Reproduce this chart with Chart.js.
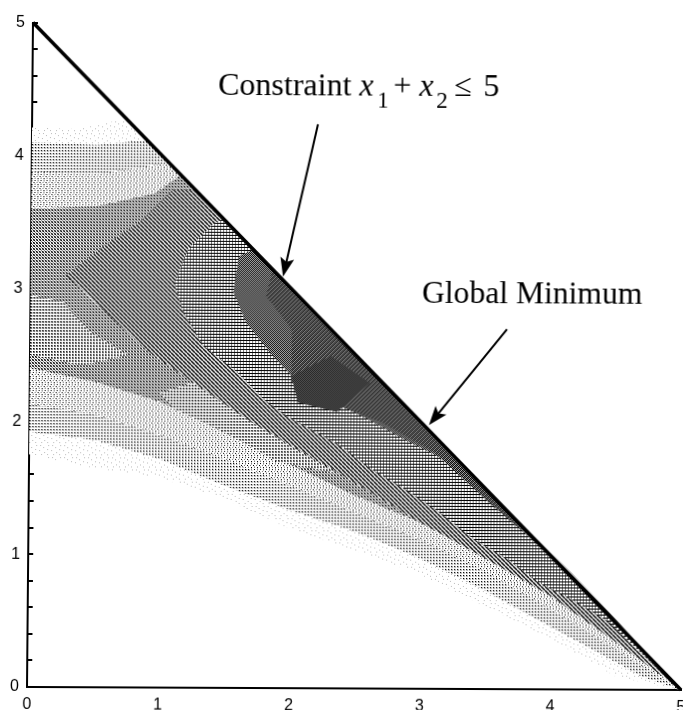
<!DOCTYPE html>
<html>
<head>
<meta charset="utf-8">
<title>Constraint contour</title>
<script src="https://cdn.jsdelivr.net/npm/chart.js@4"></script>
<style>
  html, body { margin: 0; padding: 0; background: #fff; overflow: hidden; }
  /* the scan is slightly sheared, so the axes are not quite square */
  #plot { display: block; transform-origin: 27px 687px; transform: matrix(1, 0.00459, -0.009, 1, 0, 0); }
</style>
</head>
<body>
<canvas id="plot" width="683" height="710"></canvas>
<script>
// contour bands, outermost first, each as [x1, x2]
const bandFaint = [[0,4.21],[0.35,4.2],[0.72,4.28],[5,0],[4.5,0.1],[4,0.38],[3.5,0.62],[3,0.86],[2.5,1.04],[2,1.2],[1.5,1.42],[1,1.58],[0.5,1.65],[0,1.75]];
const bandDots = [[0,4.1],[0.5,4.08],[0.88,4.12],[5,0],[4.7,0.1],[4,0.47],[3.5,0.74],[3,0.98],[2.5,1.18],[2,1.34],[1.5,1.52],[1,1.72],[0.5,1.86],[0,1.92]];
const bandGrey = [[0,3.88],[0.5,3.86],[1.05,3.95],[5,0],[4.7,0.18],[4,0.6],[3.5,0.88],[3,1.12],[2.5,1.32],[2,1.52],[1.5,1.72],[1,1.9],[0.5,2.05],[0,2.13]];
const bandDense = [[0,3.6],[0.5,3.62],[0.95,3.72],[1.14,3.86],[5,0],[4.7,0.22],[4,0.7],[3.5,1],[3,1.25],[2.5,1.45],[2,1.68],[1.5,1.92],[1,2.15],[0.5,2.3],[0,2.4]];
const patchLeft = [[0,2.95],[0.25,2.9],[0.45,2.68],[0.75,2.5],[0.4,2.42],[0,2.5]];
const patchLower = [[1,2.22],[1.25,2.3],[1.55,2.1],[2,1.82],[2.35,1.62],[1.9,1.7],[1.5,1.92],[1.1,2.1]];
const bandDiag = [[0.27,3.1],[0.53,3.3],[0.85,3.52],[1.08,3.75],[1.25,3.75],[5,0],[4.5,0.36],[4,0.7],[3.5,0.98],[3,1.25],[2.37,1.62],[1.7,2],[0.9,2.53]];
const bandHatch = [[1.1,3.04],[1.2,3.3],[1.4,3.5],[1.47,3.53],[5,0],[4.43,0.52],[4.17,0.67],[3.91,0.8],[3.66,0.98],[3.4,1.13],[3.14,1.33],[2.88,1.5],[2.62,1.65],[2.37,1.83],[1.96,2.05],[1.78,2.18],[1.58,2.38],[1.32,2.58],[1.17,2.83]];
const bandCheck = [[1.55,2.98],[1.59,3.25],[1.7,3.3],[5,0],[4.4,0.63],[4.15,0.88],[3.9,1.12],[3.64,1.33],[3.38,1.53],[3.13,1.75],[2.88,1.87],[2.6,2.02],[2.27,2.18],[2,2.35],[1.83,2.53],[1.65,2.75]];
const bandDark = [[1.85,3.15],[1.8,2.95],[2,2.7],[2,2.3],[2.3,2.15],[2.7,2],[3.1,1.78],[3.5,1.42],[4,1],[5,0]];
const bandDeep = [[2,2.35],[2.3,2.5],[2.6,2.3],[2.35,2.08],[2.05,2.15]];

const constraintX = [0, 5];
const constraintY = [5, 0];

const arrowConstraint = [[2.186,4.245],[1.929,3.097]];
const arrowMinimum = [[3.645,2.708],[3.055,1.985]];

const xTicks = [0, 1, 2, 3, 4, 5];

// small halftone tiles: # black, + mid grey, - light grey, . white
const tiles = {
  faint: ['............','..-.......-.','............','.....-......','............','.........-..','.-..........','............','......-.....','............','...-.....-..','............'],
  dots: ['#-.','--.','...'],
  patch: ['#+.','++.','...'],
  grey: ['#..+..','...-..','..+..#','-.....','+..#..','...-..'],
  dense: ['#.+','.+.','+.#'],
  diag: ['#+.-','+#+.','.+#+','-.+#'],
  hatch: ['###','+..','+..'],
  check: ['#-','-#'],
  dark: ['#+#-','+#-#','#-#+','-#+#'],
  deep: ['#+','+#']
};

function makePattern(rows) {
  const c = document.createElement('canvas');
  c.width = rows[0].length;
  c.height = rows.length;
  const g = c.getContext('2d');
  const shades = { '#': '#000', '+': '#777', '-': '#bbb', '.': '#fff' };
  rows.forEach((row, j) => {
    [...row].forEach((ch, i) => {
      g.fillStyle = shades[ch];
      g.fillRect(i, j, 1, 1);
    });
  });
  return g.createPattern(c, 'repeat');
}

function band(points, tile, order) {
  return {
    type: 'scatter',
    data: points,
    showLine: true,
    fill: 'shape',
    backgroundColor: makePattern(tiles[tile]),
    borderWidth: 0,
    pointRadius: 0,
    order: order
  };
}

// arrows and the two labels sit on top of the plot
const notes = {
  id: 'notes',
  afterDraw(chart) {
    const ctx = chart.ctx;
    const sx = chart.scales.x;
    const sy = chart.scales.y;

    [arrowConstraint, arrowMinimum].forEach(a => {
      const x0 = sx.getPixelForValue(a[0][0]);
      const y0 = sy.getPixelForValue(a[0][1]);
      const x1 = sx.getPixelForValue(a[1][0]);
      const y1 = sy.getPixelForValue(a[1][1]);
      const ang = Math.atan2(y1 - y0, x1 - x0);
      ctx.save();
      ctx.strokeStyle = '#000';
      ctx.lineWidth = 2;
      ctx.beginPath();
      ctx.moveTo(x0, y0);
      ctx.lineTo(x1 - 12 * Math.cos(ang), y1 - 12 * Math.sin(ang));
      ctx.stroke();
      ctx.translate(x1, y1);
      ctx.rotate(ang);
      ctx.fillStyle = '#000';
      ctx.beginPath();
      ctx.moveTo(0, 0);
      ctx.lineTo(-19, -7);
      ctx.lineTo(-15, 0);
      ctx.lineTo(-19, 7);
      ctx.closePath();
      ctx.fill();
      ctx.restore();
    });

    const serif = '"Liberation Serif", serif';
    ctx.save();
    ctx.fillStyle = '#000';
    ctx.textAlign = 'left';
    ctx.textBaseline = 'alphabetic';
    ctx.font = '31.6px ' + serif;
    ctx.fillText('Global Minimum', 418.5, 301.3);
    ctx.font = '32px ' + serif;
    ctx.fillText('Constraint', 212.7, 94);
    ctx.fillText('+', 388, 94);
    ctx.fillText('\u2264', 449, 94);
    ctx.fillText('5', 478, 94);
    ctx.font = 'italic 32px ' + serif;
    ctx.fillText('x', 354, 94);
    ctx.fillText('x', 414, 94);
    ctx.font = '23px ' + serif;
    ctx.fillText('1', 372, 106);
    ctx.fillText('2', 431, 106);
    ctx.restore();
  }
};

new Chart(document.getElementById('plot'), {
  data: {
    datasets: [
      {
        type: 'scatter',
        data: constraintX.map((x, i) => ({ x: x, y: constraintY[i] })),
        showLine: true,
        borderColor: '#000',
        borderWidth: 3.5,
        pointRadius: 0,
        clip: 4,
        order: 0
      },
      band(bandDeep, 'deep', 1),
      band(bandDark, 'dark', 2),
      band(bandCheck, 'check', 3),
      band(bandHatch, 'hatch', 4),
      band(bandDiag, 'diag', 5),
      band(patchLeft, 'patch', 6),
      band(patchLower, 'patch', 6),
      band(bandDense, 'dense', 7),
      band(bandGrey, 'grey', 8),
      band(bandDots, 'dots', 9),
      band(bandFaint, 'faint', 10)
    ]
  },
  options: {
    responsive: false,
    animation: false,
    layout: { padding: { top: 20, right: 2, left: 0, bottom: 0 } },
    plugins: { legend: { display: false }, tooltip: { enabled: false } },
    scales: {
      x: {
        type: 'linear',
        min: 0,
        max: 5,
        afterFit(s) { s.height = 23; s.paddingLeft = 0; s.paddingRight = 0; },
        afterBuildTicks(s) { s.ticks = xTicks.map(v => ({ value: v })); },
        border: { color: '#000', width: 2 },
        grid: { display: false },
        ticks: { color: '#000', padding: 0, maxRotation: 0, font: { family: '"Liberation Sans"', size: 16 } }
      },
      y: {
        type: 'linear',
        min: 0,
        max: 5,
        afterFit(s) { s.width = 27; },
        border: { color: '#000', width: 2 },
        grid: { drawOnChartArea: false, color: '#000', tickColor: '#000', tickLength: -5, lineWidth: 2 },
        ticks: {
          color: '#000',
          stepSize: 0.2,
          autoSkip: false,
          padding: 13,
          font: { family: '"Liberation Sans"', size: 16 },
          callback: v => Number.isInteger(Math.round(v * 1000) / 1000) ? Math.round(v) : ''
        }
      }
    }
  },
  plugins: [notes]
});
</script>
</body>
</html>
